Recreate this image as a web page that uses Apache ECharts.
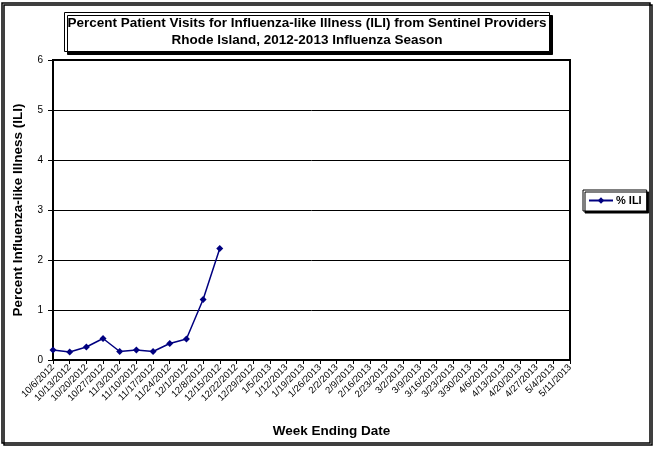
<!DOCTYPE html>
<html>
<head>
<meta charset="utf-8">
<script src="https://cdn.jsdelivr.net/npm/echarts@6/dist/echarts.min.js"></script>
<style>
  html, body { margin: 0; padding: 0; background: #fff; }
  #chart { width: 658px; height: 450px; }
</style>
</head>
<body>
<div id="chart"></div>
<script>
// week ending dates, 2012-2013 season
var weeks = ['10/6/2012', '10/13/2012', '10/20/2012', '10/27/2012', '11/3/2012', '11/10/2012',
  '11/17/2012', '11/24/2012', '12/1/2012', '12/8/2012', '12/15/2012', '12/22/2012', '12/29/2012',
  '1/5/2013', '1/12/2013', '1/19/2013', '1/26/2013', '2/2/2013', '2/9/2013', '2/16/2013',
  '2/23/2013', '3/2/2013', '3/9/2013', '3/16/2013', '3/23/2013', '3/30/2013', '4/6/2013',
  '4/13/2013', '4/20/2013', '4/27/2013', '5/4/2013', '5/11/2013'];

// % ILI, only reported through 12/15
var pctILI = [0.20, 0.16, 0.26, 0.43, 0.17, 0.20, 0.17, 0.33, 0.42, 1.21, 2.23];

var chart = echarts.init(document.getElementById('chart'));

var option = {
  animation: false,
  textStyle: { fontFamily: 'Liberation Sans, Arial, sans-serif' },
  graphic: [
    {
      type: 'rect',
      shape: { x: 2, y: 3, width: 648, height: 440 },
      style: { fill: 'none', stroke: '#000', lineWidth: 1.5,
        shadowColor: '#000', shadowOffsetX: 2, shadowOffsetY: 2 },
      z: -1
    }
  ],
  title: {
    text: 'Percent Patient Visits for Influenza-like Illness (ILI) from Sentinel Providers\nRhode Island, 2012-2013 Influenza Season',
    left: 304,
    top: 12,
    textAlign: 'center',
    padding: [3, 3, 3, 3],
    backgroundColor: '#fff',
    borderColor: '#000',
    borderWidth: 1,
    shadowColor: '#000',
    shadowOffsetX: 3,
    shadowOffsetY: 3,
    textStyle: {
      fontSize: 13.5,
      fontWeight: 'bold',
      lineHeight: 17,
      color: '#000'
    }
  },
  legend: {
    data: ['% ILI'],
    orient: 'vertical',
    left: 583,
    top: 190,
    padding: [5, 5, 5, 5],
    itemWidth: 24,
    itemHeight: 8,
    itemGap: 4,
    backgroundColor: '#fff',
    borderColor: '#000',
    borderWidth: 1,
    shadowColor: '#000',
    shadowOffsetX: 2,
    shadowOffsetY: 2,
    textStyle: { fontSize: 11, fontWeight: 'bold', color: '#000', padding: [0, 0, 0, -2] }
  },
  grid: {
    left: 53,
    right: 88,
    top: 60,
    bottom: 90,
    show: true,
    borderColor: '#000',
    borderWidth: 2
  },
  xAxis: {
    type: 'category',
    data: weeks,
    boundaryGap: false,
    name: 'Week Ending Date',
    nameLocation: 'middle',
    nameGap: 64,
    nameTextStyle: { fontSize: 13.5, fontWeight: 'bold', color: '#000', padding: [0, 0, 0, 40] },
    axisLine: { lineStyle: { color: '#000', width: 2 } },
    axisTick: { interval: 0, length: 4, lineStyle: { color: '#000' } },
    axisLabel: { interval: 0, rotate: 45, fontSize: 9.5, color: '#000', margin: 6 }
  },
  yAxis: {
    type: 'value',
    min: 0,
    max: 6,
    interval: 1,
    name: 'Percent Influenza-like Illness (ILI)',
    nameLocation: 'middle',
    nameGap: 28,
    nameTextStyle: { fontSize: 13.5, fontWeight: 'bold', color: '#000' },
    axisLine: { show: true, lineStyle: { color: '#000', width: 2 } },
    axisTick: { show: true, length: 5, lineStyle: { color: '#000' } },
    axisLabel: { fontSize: 10, color: '#000', margin: 10 },
    splitLine: { lineStyle: { color: '#000', width: 1 } }
  },
  series: [
    {
      name: '% ILI',
      type: 'line',
      data: pctILI,
      symbol: 'diamond',
      symbolSize: 7,
      lineStyle: { color: '#000080', width: 1.5 },
      itemStyle: { color: '#000080' }
    }
  ]
};

chart.setOption(option);
</script>
</body>
</html>
